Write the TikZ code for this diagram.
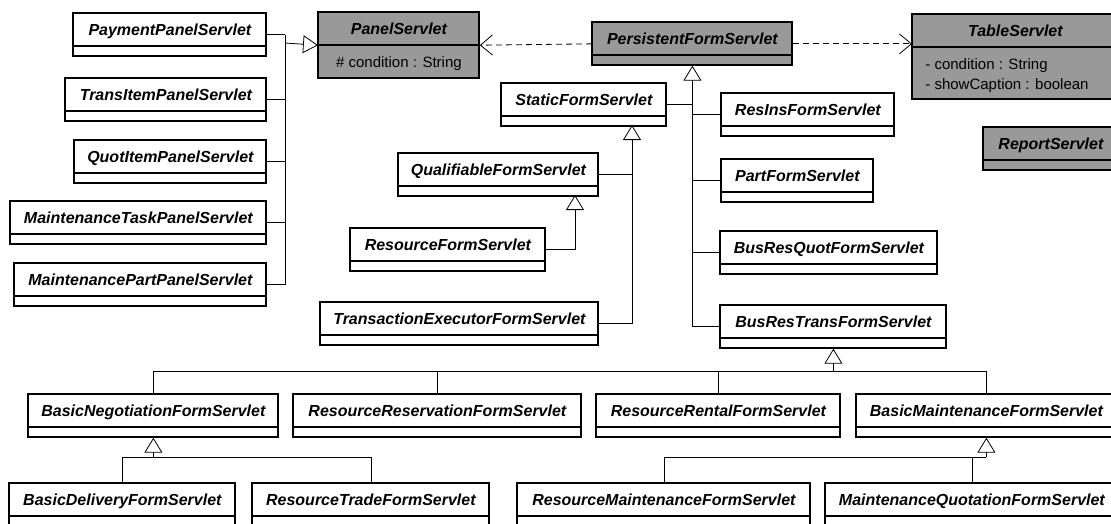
\documentclass[tikz,border=0pt]{standalone}
\usepackage{fontspec}
\setmainfont{Liberation Sans}
\usetikzlibrary{arrows.meta, shapes.multipart}

\definecolor{absgray}{RGB}{153,153,153}

\tikzset{
  cls/.style={rectangle split, rectangle split parts=2, anchor=north west,
    preaction={fill=#1, draw, line width=2pt}, draw, line width=0.8pt,
    inner xsep=4pt, inner ysep=2pt,
    rectangle split empty part height=5pt, rectangle split empty part depth=0pt,
    font=\fontsize{16}{28}\selectfont\bfseries\itshape,
    execute at begin node=\strut},
  cls/.default=white,
  attr/.style={font=\fontsize{15}{20}\selectfont\mdseries\upshape},
  isa/.style={line width=0.8pt, -{Triangle[open, length=15pt, width=18pt]}},
  dep/.style={line width=0.8pt, dash pattern=on 6pt off 4pt,
    -{Straight Barb[length=12pt, width=20pt]}},
}

\begin{document}
\begin{tikzpicture}[x=1pt, y=-1pt, line width=0.8pt]
  \useasboundingbox (0,0) rectangle (1111,523);

  % panel servlets
  \node[cls, minimum width=193pt] (pps) at (73,13) {PaymentPanelServlet};
  \node[cls, minimum width=201pt] (tips) at (65,78) {TransItemPanelServlet};
  \node[cls, minimum width=192pt] (qips) at (74,140) {QuotItemPanelServlet};
  \node[cls, minimum width=256pt] (mtps) at (10,201) {MaintenanceTaskPanelServlet};
  \node[cls, minimum width=252pt] (mpps) at (14,263) {MaintenancePartPanelServlet};

  % abstract servlets
  \node[cls=absgray, minimum width=161pt] (ps) at (318,12) {PanelServlet
    \nodepart{two}\fontsize{15}{20}\selectfont\mdseries\upshape\rule[-7pt]{0pt}{26pt}\# condition : String};
  \node[cls=absgray, minimum width=200pt] (pfs) at (592,22) {PersistentFormServlet};
  \node[cls=absgray, minimum width=206pt, rectangle split part align={center,left}] (ts) at (912,14) {TableServlet
    \nodepart{two}\fontsize{15}{20}\selectfont\mdseries\upshape
    \begin{tabular}[t]{@{\hspace{9pt}}l@{}}\rule{0pt}{20pt}- condition : String\\
      - showCaption : boolean\rule[-7pt]{0pt}{7pt}\end{tabular}};
  \node[cls=absgray, minimum width=135pt] (rs) at (983,127) {ReportServlet};

  % form servlets
  \node[cls, minimum width=165pt] (sfs) at (501,83) {StaticFormServlet};
  \node[cls, minimum width=200pt] (qfs) at (398,153) {QualifiableFormServlet};
  \node[cls, minimum width=195pt] (rfs) at (350,228) {ResourceFormServlet};
  \node[cls, minimum width=278pt] (tefs) at (320,302) {TransactionExecutorFormServlet};
  \node[cls, minimum width=173pt] (rifs) at (721,93) {ResInsFormServlet};
  \node[cls, minimum width=152pt] (partfs) at (721,159) {PartFormServlet};
  \node[cls, minimum width=217pt] (brqfs) at (720,231) {BusResQuotFormServlet};
  \node[cls, minimum width=226pt] (brtfs) at (720,305) {BusResTransFormServlet};

  \node[cls, minimum width=250pt] (bnfs) at (28,394) {BasicNegotiationFormServlet};
  \node[cls, minimum width=288pt] (rrfs) at (293,394) {ResourceReservationFormServlet};
  \node[cls, minimum width=244pt] (rrentfs) at (596,394) {ResourceRentalFormServlet};
  \node[cls, minimum width=260pt] (bmfs) at (856,394) {BasicMaintenanceFormServlet};

  \node[cls, minimum width=226pt] (bdfs) at (9,483) {BasicDeliveryFormServlet};
  \node[cls, minimum width=237pt] (rtfs) at (252,483) {ResourceTradeFormServlet};
  \node[cls, minimum width=293pt] (rmfs) at (517,483) {ResourceMaintenanceFormServlet};
  \node[cls, minimum width=293pt] (mqfs) at (825,483) {MaintenanceQuotationFormServlet};

  % junction points
  \coordinate (pj) at (285,43);
  \coordinate (sfsT) at (632,125);
  \coordinate (qfsT) at (575,195);
  \coordinate (topbus) at (0,371);
  \coordinate (lowbus) at (0,457);

  % PanelServlet hierarchy
  \foreach \n in {pps,tips,qips,mtps,mpps}
    \draw (\n.east) -- (\n.east -| pj);
  \draw (pps.east -| pj) -- (mpps.east -| pj);
  \draw[isa] (pj) -- (ps.west);

  % dependencies
  \draw[dep] (pfs.west) -- (ps.east);
  \draw[dep] (pfs.east) -- (pfs.east -| ts.west);

  % PersistentFormServlet hierarchy
  \draw[isa] (brtfs.west -| pfs.south) -- (pfs.south);
  \draw (sfs.east) -- (sfs.east -| pfs.south);
  \foreach \n in {rifs,partfs,brqfs,brtfs}
    \draw (\n.west) -- (\n.west -| pfs.south);

  \draw[isa] (tefs.east) -| (sfsT);
  \draw (qfs.east) -- (qfs.east -| sfsT);
  \draw[isa] (rfs.east) -| (qfsT);

  % BusResTransFormServlet hierarchy
  \draw[isa] (brtfs.south |- topbus) -- (brtfs.south);
  \draw (bnfs.north |- topbus) -- (bmfs.north |- topbus);
  \foreach \n in {bnfs,rrfs,rrentfs,bmfs}
    \draw (\n.north) -- (\n.north |- topbus);

  \draw[isa] (bnfs.south |- lowbus) -- (bnfs.south);
  \draw (bdfs.north |- lowbus) -- (rtfs.north |- lowbus);
  \draw[isa] (bmfs.south |- lowbus) -- (bmfs.south);
  \draw (rmfs.north |- lowbus) -- (bmfs.south |- lowbus);
  \foreach \n in {bdfs,rtfs,rmfs,mqfs}
    \draw (\n.north) -- (\n.north |- lowbus);
\end{tikzpicture}
\end{document}
